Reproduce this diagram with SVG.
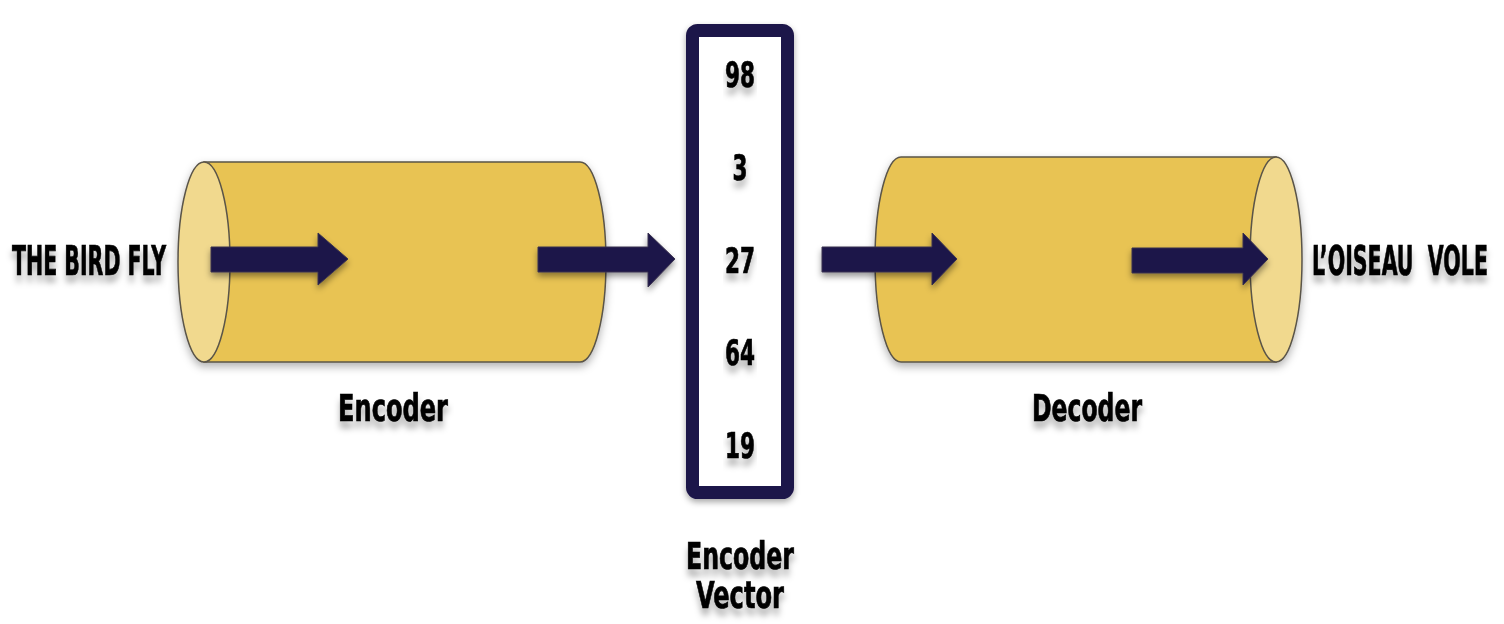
<svg xmlns="http://www.w3.org/2000/svg" width="1504" height="624" viewBox="0 0 1504 624">
<style>
.body{fill:#E8C352;stroke:#5a5448;stroke-width:1.5}
.face{fill:#F1D98E;stroke:#5a5448;stroke-width:1.5}
.arr{fill:#1E1548;stroke:#3a3450;stroke-width:1;filter:url(#sh)}
.t{font-family:"DejaVu Sans",sans-serif;font-weight:bold;font-stretch:condensed;fill:#000;stroke:#000;stroke-width:0.7;filter:url(#tsh)}
</style>
<defs>
<filter id="sh" x="-30%" y="-50%" width="160%" height="200%">
<feDropShadow dx="0" dy="4" stdDeviation="3" flood-color="#000" flood-opacity="0.4"/>
</filter>
<filter id="csh" x="-10%" y="-20%" width="120%" height="140%">
<feDropShadow dx="0" dy="4" stdDeviation="4" flood-color="#000" flood-opacity="0.3"/>
</filter>
<filter id="tsh" x="-5%" y="-30%" width="110%" height="180%">
<feDropShadow dx="0" dy="7" stdDeviation="3" flood-color="#000" flood-opacity="0.3"/>
</filter>
<filter id="bsh" x="-30%" y="-10%" width="160%" height="120%">
<feDropShadow dx="0" dy="3" stdDeviation="3" flood-color="#000" flood-opacity="0.35"/>
</filter>
</defs>
<rect width="1504" height="624" fill="#fff"/>

<g id="encoder">
<g filter="url(#csh)">
<path class="body" d="M204 162 L580 162 A26 100 0 0 1 580 362 L204 362 Z"/>
<ellipse class="face" cx="204" cy="262" rx="26" ry="100"/>
</g>
<text class="t" x="393" y="421" font-size="37" text-anchor="middle" textLength="110" lengthAdjust="spacingAndGlyphs">Encoder</text>
</g>

<g id="input">
<text class="t" x="12" y="275" font-size="40" textLength="154" lengthAdjust="spacingAndGlyphs">THE BIRD FLY</text>
</g>

<g id="vector">
<rect x="692.5" y="30.5" width="95" height="462" rx="5" fill="#fff" stroke="#1E1548" stroke-width="13" filter="url(#bsh)"/>
<g class="t" font-size="35" text-anchor="middle">
<text x="740" y="87" textLength="30" lengthAdjust="spacingAndGlyphs">98</text>
<text x="740" y="180" textLength="15" lengthAdjust="spacingAndGlyphs">3</text>
<text x="740" y="273" textLength="30" lengthAdjust="spacingAndGlyphs">27</text>
<text x="740" y="365" textLength="30" lengthAdjust="spacingAndGlyphs">64</text>
<text x="740" y="458" textLength="30" lengthAdjust="spacingAndGlyphs">19</text>
</g>
<g class="t" font-size="37" text-anchor="middle">
<text x="740" y="569" textLength="108" lengthAdjust="spacingAndGlyphs">Encoder</text>
<text x="740" y="608" textLength="88" lengthAdjust="spacingAndGlyphs">Vector</text>
</g>
</g>

<g id="decoder">
<g filter="url(#csh)">
<path class="body" d="M901 157 L1276 157 L1276 362 L901 362 A26 102.5 0 0 1 901 157 Z"/>
<ellipse class="face" cx="1276" cy="259.5" rx="26" ry="102.5"/>
</g>
<text class="t" x="1087" y="421" font-size="37" text-anchor="middle" textLength="110" lengthAdjust="spacingAndGlyphs">Decoder</text>
</g>

<g id="output">
<text class="t" x="1488" y="275" font-size="40" text-anchor="end" textLength="176" lengthAdjust="spacingAndGlyphs">L’OISEAU&#160; VOLE</text>
</g>

<g id="connectors">
<path class="arr" d="M211 247 L318 247 L318 233 L348 259 L318 285 L318 272 L211 272 Z"/>
<path class="arr" d="M538 247 L648 247 L648 233 L675 259 L648 287 L648 272 L538 272 Z"/>
<path class="arr" d="M822 247 L932 247 L932 233 L957 259 L932 285 L932 272 L822 272 Z"/>
<path class="arr" d="M1132 248 L1243 248 L1243 233 L1268 259 L1243 285 L1243 273 L1132 273 Z"/>
</g>
</svg>
